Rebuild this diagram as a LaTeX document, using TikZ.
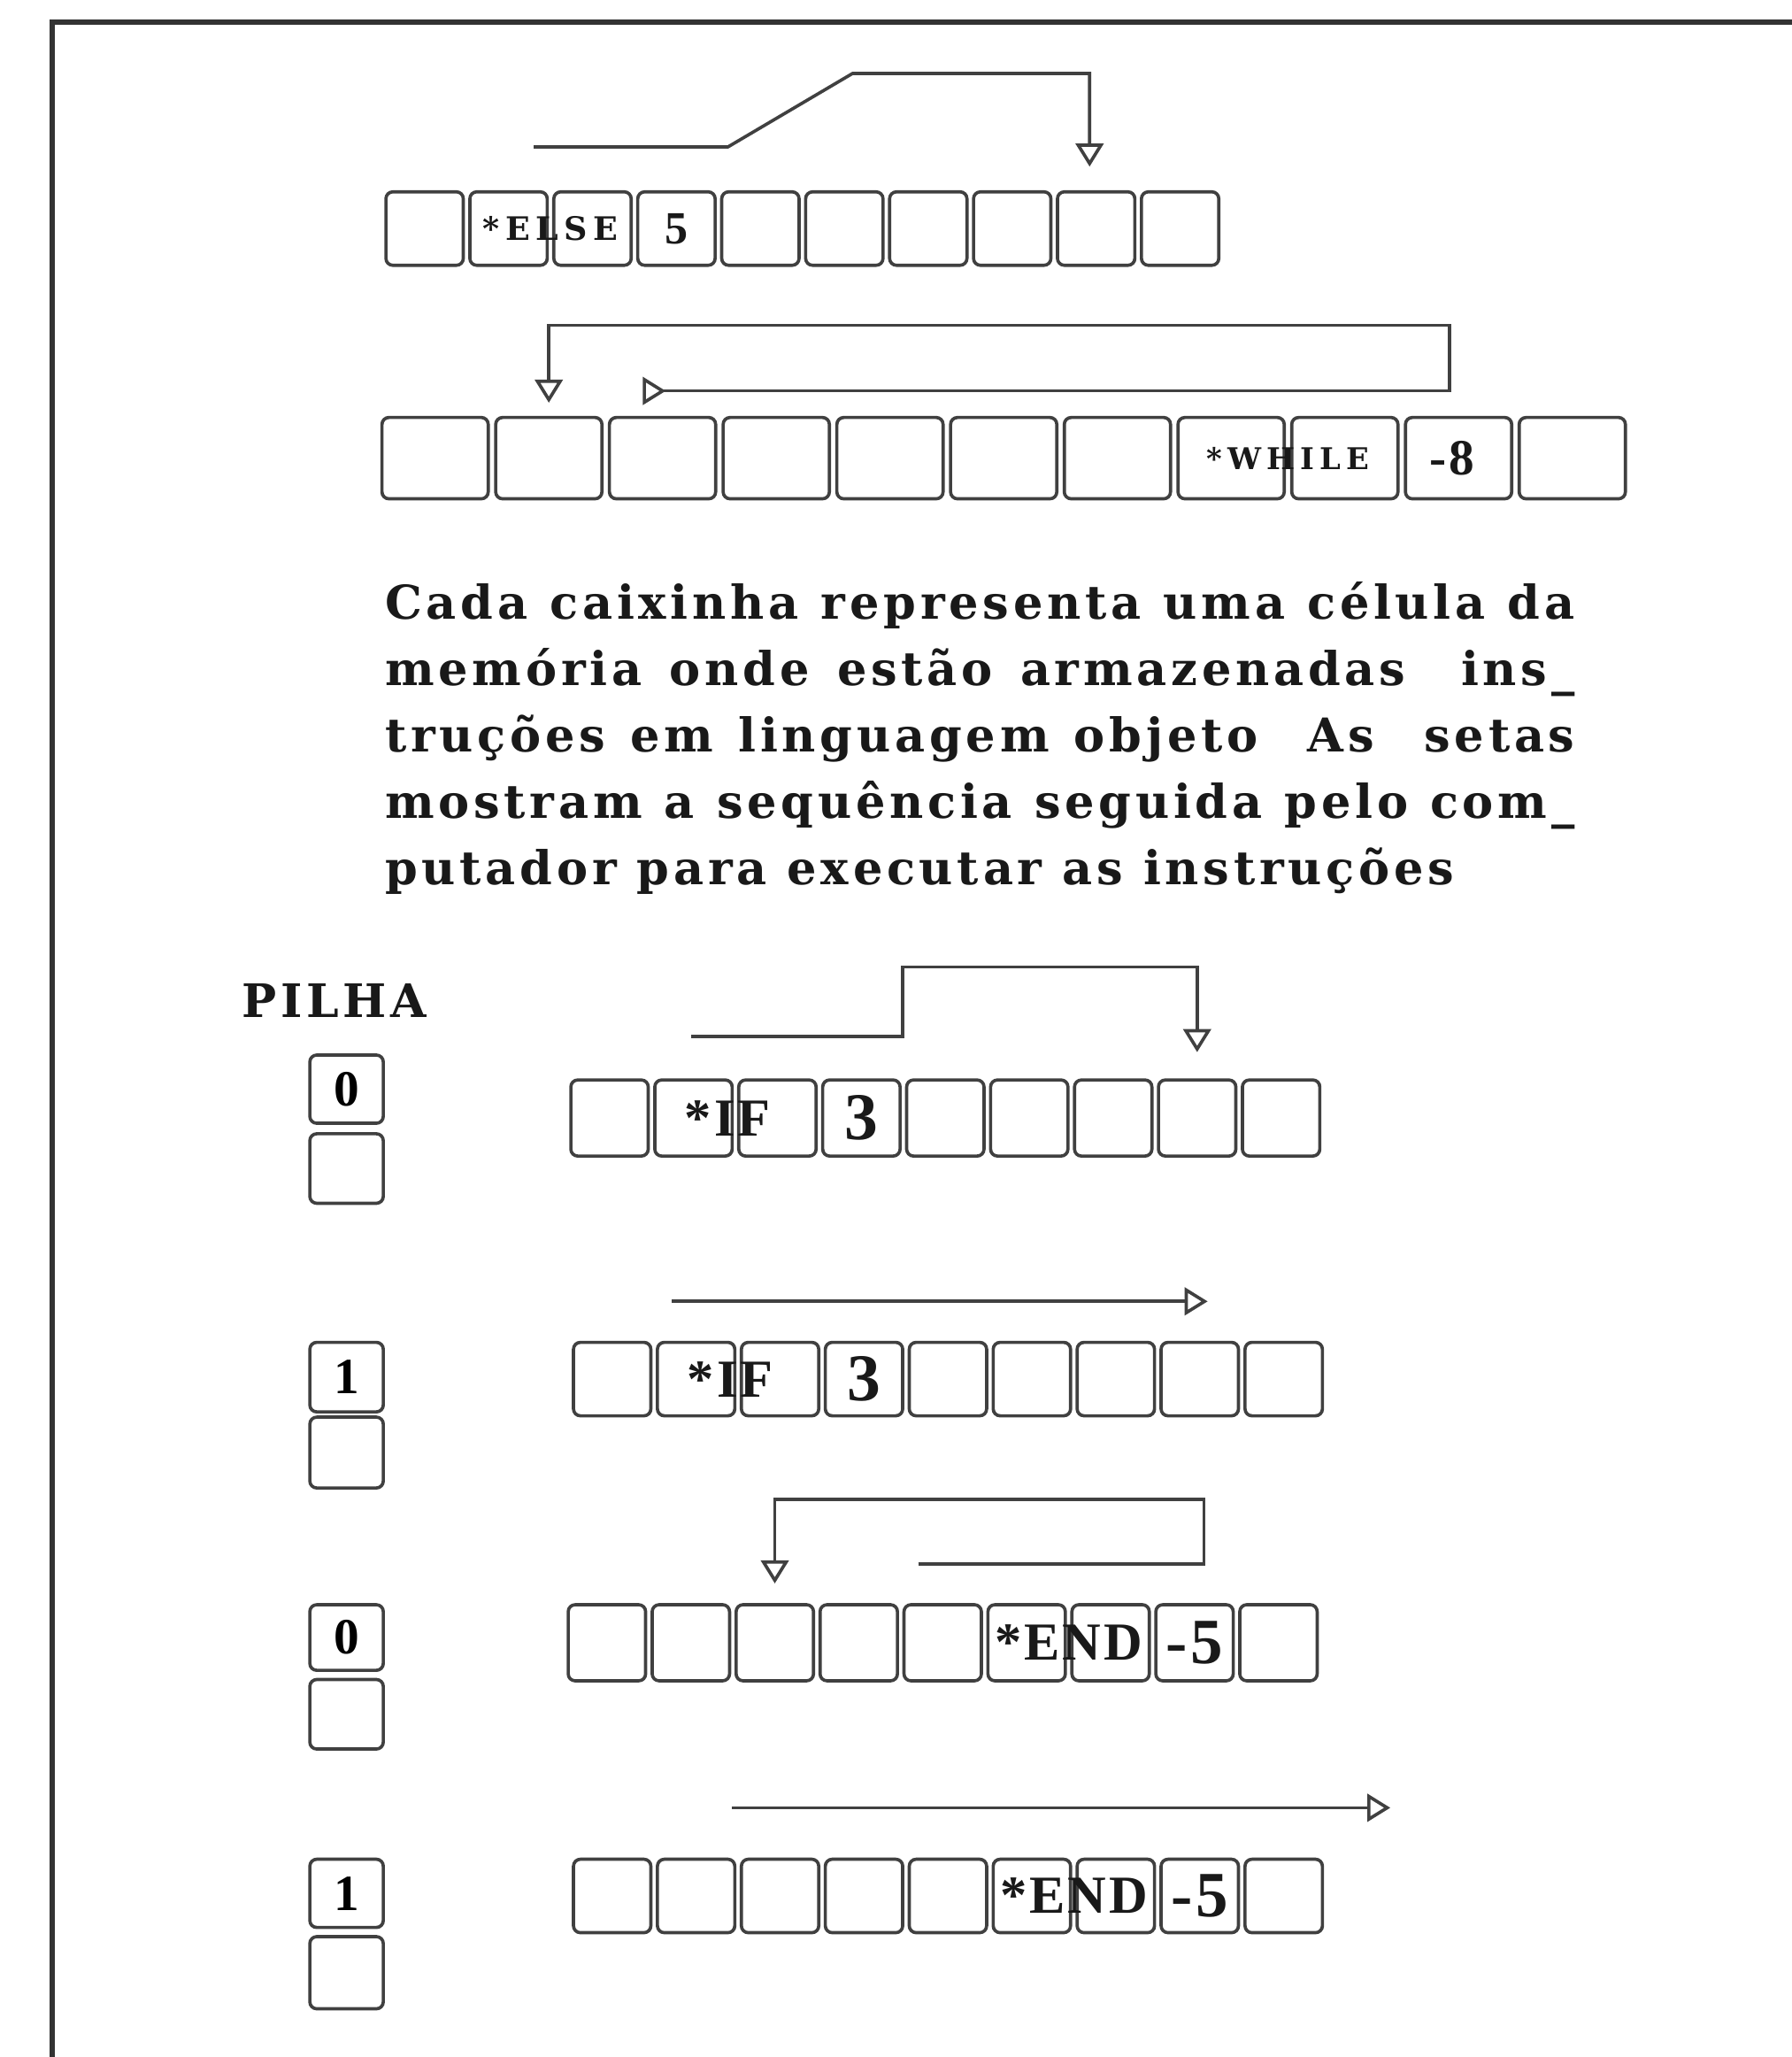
\documentclass[tikz,border=0pt]{standalone}
\usepackage{fontspec}
\setmainfont{DejaVu Serif}
\newfontfamily\spaced[LetterSpace=9]{DejaVu Serif}
\newfontfamily\wide[LetterSpace=18]{DejaVu Serif}
\newfontfamily\cellfont[LetterSpace=5]{Liberation Serif}
\usetikzlibrary{arrows.meta,calc}

\begin{document}
\begin{tikzpicture}[>={Triangle[open,width=6pt,length=5pt]},
  cell/.style={draw=black!75, line width=0.7pt, rounded corners=1.5pt, inner sep=0pt, anchor=north west},
  tok/.style={inner sep=0pt, text=black!90},
  flow/.style={->, draw=black!75, line width=0.7pt},
  loopflow/.style={flow, arrows={Triangle[open,reversed,width=6pt,length=5pt]-Triangle[open,width=6pt,length=5pt]}},
  frame/.style={draw=black!80, line width=1.2pt}]

\useasboundingbox (0,0) rectangle (13.66,-15.68);

% Frame (top and left edge of the box)
\draw[frame] (13.70,-0.17) -- (0.40,-0.17) -- (0.40,-15.72);

% Row 1: ELSE jumps forward
\foreach \i in {1,...,10}
  \node[cell, minimum width=0.59cm, minimum height=0.56cm] (e\i) at ({2.93+0.64*(\i-1)},-1.45) {};
\node[tok, font=\wide\bfseries\fontsize{7}{8}\selectfont] (elsetok) at ($(e2)!0.5!(e3)$) {*ELSE};
\node[tok, font=\cellfont\bfseries\fontsize{10}{11}\selectfont] (five) at (e4) {5};
\coordinate (s1) at (4.07,-1.12);
\draw[flow, shorten >=0.18cm] (s1) -- ++(1.48,0) -- ++(0.95,0.56) -| ([xshift=-0.05cm]e9.north);

% Row 2: WHILE loops back
\foreach \i in {1,...,11}
  \node[cell, minimum width=0.81cm, minimum height=0.62cm] (w\i) at ({2.90+0.867*(\i-1)},-3.17) {};
\node[tok, font=\wide\bfseries\fontsize{6.5}{7}\selectfont] (whiletok) at ($(w8)!0.5!(w9)$) {*WHILE};
\node[tok, font=\cellfont\bfseries\fontsize{11}{12}\selectfont] (eight) at ([xshift=-0.05cm]w10.center) {-8};
\coordinate (s2) at (4.90,-2.98);
\draw[loopflow, shorten >=0.10cm] (s2) -- ++(6.15,0) -- ++(0,0.50) -| (w2.north);

% Caption
\node[anchor=north west, inner sep=0pt, text width=9.07cm, align=justify, text=black!90,
  font=\spaced\bfseries\fontsize{10.1}{14.4}\selectfont] (caption) at (2.93,-4.43)
  {Cada caixinha representa uma célula da\linebreak
   memória onde estão armazenadas \ ins\_\linebreak
   truções em linguagem objeto \ As \ setas\linebreak
   mostram a sequência seguida pelo com\_\linebreak
   putador para executar as instruções};

% Stack
\node[tok, font=\spaced\bfseries\fontsize{10}{11}\selectfont] (pilha) at (2.55,-7.63) {PILHA};

% Row 3: IF with 0 on the stack
\node[cell, minimum width=0.56cm, minimum height=0.52cm, font=\cellfont\bfseries\fontsize{11}{12}\selectfont] (p1) at (2.35,-8.03) {0};
\node[cell, minimum width=0.56cm, minimum height=0.53cm] (q1) at (2.35,-8.63) {};
\foreach \i in {1,...,9}
  \node[cell, minimum width=0.59cm, minimum height=0.58cm] (ifa\i) at ({4.34+0.64*(\i-1)},-8.22) {};
\node[tok, font=\cellfont\bfseries\fontsize{11.6}{12}\selectfont] (ifatok) at ([xshift=-0.06cm]$(ifa2)!0.5!(ifa3)$) {*IF};
\node[tok, font=\cellfont\bfseries\fontsize{14.5}{15}\selectfont] (ifanum) at (ifa4) {3};
\coordinate (s3) at (5.27,-7.90);
\draw[flow, shorten >=0.20cm] (s3) -- ++(1.61,0) -- ++(0,0.53) -| (ifa8.north);

% Row 4: IF with 1 on the stack
\node[cell, minimum width=0.56cm, minimum height=0.53cm, font=\cellfont\bfseries\fontsize{11}{12}\selectfont] (p2) at (2.35,-10.22) {1};
\node[cell, minimum width=0.56cm, minimum height=0.54cm] (q2) at (2.35,-10.79) {};
\foreach \i in {1,...,9}
  \node[cell, minimum width=0.59cm, minimum height=0.56cm] (ifb\i) at ({4.36+0.64*(\i-1)},-10.22) {};
\node[tok, font=\cellfont\bfseries\fontsize{11.6}{12}\selectfont] (ifbtok) at ([xshift=-0.06cm]$(ifb2)!0.5!(ifb3)$) {*IF};
\node[tok, font=\cellfont\bfseries\fontsize{14.5}{15}\selectfont] (ifbnum) at (ifb4) {3};
\coordinate (s4) at (5.12,-9.92);
\draw[flow] (s4) -- ([xshift=0.06cm]s4 -| ifb8.center);

% Row 5: END with 0 on the stack
\node[cell, minimum width=0.56cm, minimum height=0.50cm, font=\cellfont\bfseries\fontsize{11}{12}\selectfont] (p3) at (2.35,-12.22) {0};
\node[cell, minimum width=0.56cm, minimum height=0.53cm] (q3) at (2.35,-12.79) {};
\foreach \i in {1,...,9}
  \node[cell, minimum width=0.59cm, minimum height=0.58cm] (enda\i) at ({4.32+0.64*(\i-1)},-12.22) {};
\node[tok, font=\cellfont\bfseries\fontsize{11.6}{12}\selectfont] (endatok) at ($(enda6)!0.5!(enda7)$) {*END};
\node[tok, font=\cellfont\bfseries\fontsize{14}{15}\selectfont] (endanum) at (enda8) {-5};
\coordinate (s5) at (7.00,-11.92);
\draw[flow, shorten >=0.15cm] (s5) -- ++(2.18,0) -- ++(0,0.49) -| (enda3.north);

% Row 6: END with 1 on the stack
\node[cell, minimum width=0.56cm, minimum height=0.52cm, font=\cellfont\bfseries\fontsize{11}{12}\selectfont] (p4) at (2.35,-14.16) {1};
\node[cell, minimum width=0.56cm, minimum height=0.55cm] (q4) at (2.35,-14.75) {};
\foreach \i in {1,...,9}
  \node[cell, minimum width=0.59cm, minimum height=0.56cm] (endb\i) at ({4.36+0.64*(\i-1)},-14.16) {};
\node[tok, font=\cellfont\bfseries\fontsize{11.6}{12}\selectfont] (endbtok) at ($(endb6)!0.5!(endb7)$) {*END};
\node[tok, font=\cellfont\bfseries\fontsize{14}{15}\selectfont] (endbnum) at (endb8) {-5};
\coordinate (s6) at (5.58,-13.78);
\coordinate (t6) at (10.60,-13.78);
\draw[flow] (s6) -- (t6);

\end{tikzpicture}
\end{document}
